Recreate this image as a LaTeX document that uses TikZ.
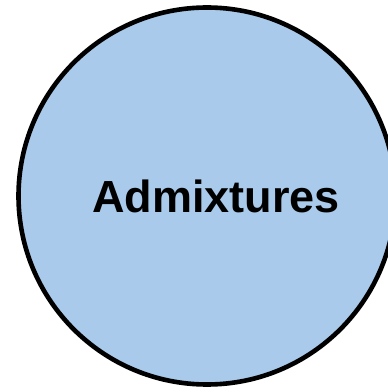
\documentclass[tikz,border=0pt]{standalone}
\usepackage{fontspec}
\setmainfont{Liberation Sans}
\definecolor{circfill}{HTML}{A9CAEB}
\begin{document}
\begin{tikzpicture}[x=1pt,y=1pt,
  bubble/.style={circle,draw=black,line width=4.6pt,fill=circfill,minimum size=377pt,inner sep=0pt},
  label/.style={font=\fontsize{45}{50}\selectfont\bfseries}]
\useasboundingbox (0,0) rectangle (388,392);
\clip (0,0) rectangle (388,392);
\node[bubble] (c) at (207,196) {};
\node[label] (t) at (216,196) {Admixtures};
\end{tikzpicture}
\end{document}
